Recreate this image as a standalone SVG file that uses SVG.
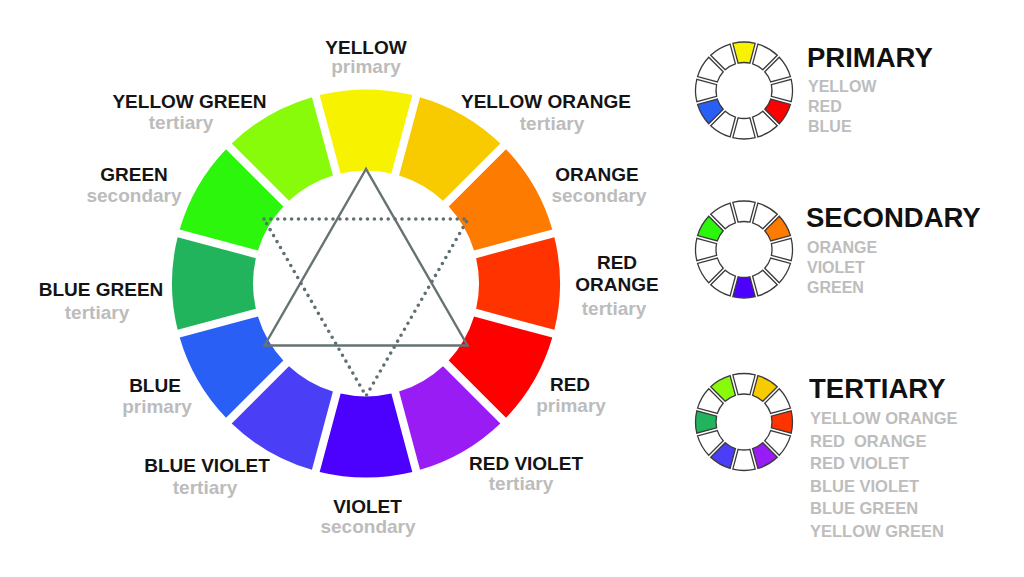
<svg xmlns="http://www.w3.org/2000/svg" xmlns:xlink="http://www.w3.org/1999/xlink" width="1024" height="577" viewBox="0 0 1024 577">
<style>
text{font-family:"Liberation Sans",Arial,Helvetica,sans-serif;font-weight:bold}
.t{font-size:19px;fill:#141414;text-anchor:middle}
.s{font-size:19px;fill:#bcbcbc;text-anchor:middle}
.h{font-size:27.5px;fill:#111}
.l{font-size:16px;fill:#bdbdbd}
.l2{font-size:16.5px;fill:#bdbdbd;white-space:pre}
.sm{stroke:#3a3a3a;stroke-width:1.3;fill:#fff}
.solid{fill:none;stroke:#677373;stroke-width:2.4}
.dot{fill:none;stroke:#5f6f74;stroke-width:3.6;stroke-linecap:round;stroke-dasharray:0 6.9}
</style>
<defs>
<path id="seg" d="M-46.337,-188.386 A194,194 0 0 1 46.337,-188.386 L25.365,-110.117 A113,113 0 0 0 -25.365,-110.117 Z"/>
<path id="sseg" d="M-11.195,-47.190 A48.5,48.5 0 0 1 11.195,-47.190 L5.886,-27.374 A28,28 0 0 0 -5.886,-27.374 Z"/>
</defs>
<rect width="1024" height="577" fill="#fff"/>

<g id="wheel" transform="translate(366,283.5)">
<g id="n-yellow"><use xlink:href="#seg" href="#seg" fill="#f6f200"/></g>
<g id="n-yellow-orange"><use xlink:href="#seg" href="#seg" transform="rotate(30)" fill="#f8cb00"/></g>
<g id="n-orange"><use xlink:href="#seg" href="#seg" transform="rotate(60)" fill="#fd7b00"/></g>
<g id="n-red-orange"><use xlink:href="#seg" href="#seg" transform="rotate(90)" fill="#ff3300"/></g>
<g id="n-red"><use xlink:href="#seg" href="#seg" transform="rotate(120)" fill="#fe0000"/></g>
<g id="n-red-violet"><use xlink:href="#seg" href="#seg" transform="rotate(150)" fill="#9a1cf4"/></g>
<g id="n-violet"><use xlink:href="#seg" href="#seg" transform="rotate(180)" fill="#4c00fd"/></g>
<g id="n-blue-violet"><use xlink:href="#seg" href="#seg" transform="rotate(210)" fill="#4a3ff6"/></g>
<g id="n-blue"><use xlink:href="#seg" href="#seg" transform="rotate(240)" fill="#2a5ff5"/></g>
<g id="n-blue-green"><use xlink:href="#seg" href="#seg" transform="rotate(270)" fill="#21b45d"/></g>
<g id="n-green"><use xlink:href="#seg" href="#seg" transform="rotate(300)" fill="#2cf60c"/></g>
<g id="n-yellow-green"><use xlink:href="#seg" href="#seg" transform="rotate(330)" fill="#87fb0a"/></g>
</g>

<g id="connectors">
<polygon class="solid" points="366,169 264.5,345.5 467.5,345.5"/>
<polygon class="dot" points="264,219 468,219 366,396"/>
</g>

<g id="labels">
<g id="l-yellow"><text class="t" x="366" y="53.5">YELLOW</text><text class="s" x="366" y="73">primary</text></g>
<g id="l-yellow-orange"><text class="t" x="546" y="108">YELLOW ORANGE</text><text class="s" x="552" y="129.5">tertiary</text></g>
<g id="l-orange"><text class="t" x="597" y="181">ORANGE</text><text class="s" x="599" y="201.5">secondary</text></g>
<g id="l-red-orange"><text class="t" x="617" y="268.5">RED</text><text class="t" x="617" y="291">ORANGE</text><text class="s" x="614" y="314.5">tertiary</text></g>
<g id="l-red"><text class="t" x="570" y="391">RED</text><text class="s" x="571" y="411.5">primary</text></g>
<g id="l-red-violet"><text class="t" x="526" y="469.5">RED VIOLET</text><text class="s" x="521" y="489.5">tertiary</text></g>
<g id="l-violet"><text class="t" x="367.5" y="512.5">VIOLET</text><text class="s" x="368" y="532.5">secondary</text></g>
<g id="l-blue-violet"><text class="t" x="207" y="471.5">BLUE VIOLET</text><text class="s" x="205" y="494">tertiary</text></g>
<g id="l-blue"><text class="t" x="155" y="392">BLUE</text><text class="s" x="157" y="412.5">primary</text></g>
<g id="l-blue-green"><text class="t" x="101" y="296">BLUE GREEN</text><text class="s" x="97" y="318.5">tertiary</text></g>
<g id="l-green"><text class="t" x="134" y="181">GREEN</text><text class="s" x="134" y="201.5">secondary</text></g>
<g id="l-yellow-green"><text class="t" x="189.5" y="108">YELLOW GREEN</text><text class="s" x="181" y="129">tertiary</text></g>
</g>

<g id="legend-primary">
<g transform="translate(744,90.5)">
<use xlink:href="#sseg" href="#sseg" class="sm" style="fill:#f6f200"/>
<use xlink:href="#sseg" href="#sseg" class="sm" transform="rotate(30)"/>
<use xlink:href="#sseg" href="#sseg" class="sm" transform="rotate(60)"/>
<use xlink:href="#sseg" href="#sseg" class="sm" transform="rotate(90)"/>
<use xlink:href="#sseg" href="#sseg" class="sm" transform="rotate(120)" style="fill:#fe0000"/>
<use xlink:href="#sseg" href="#sseg" class="sm" transform="rotate(150)"/>
<use xlink:href="#sseg" href="#sseg" class="sm" transform="rotate(180)"/>
<use xlink:href="#sseg" href="#sseg" class="sm" transform="rotate(210)"/>
<use xlink:href="#sseg" href="#sseg" class="sm" transform="rotate(240)" style="fill:#2a5ff5"/>
<use xlink:href="#sseg" href="#sseg" class="sm" transform="rotate(270)"/>
<use xlink:href="#sseg" href="#sseg" class="sm" transform="rotate(300)"/>
<use xlink:href="#sseg" href="#sseg" class="sm" transform="rotate(330)"/>
</g>
<text class="h" x="807" y="66.5">PRIMARY</text>
<text class="l" x="808" y="91.5">YELLOW</text>
<text class="l" x="808" y="111.5">RED</text>
<text class="l" x="808" y="131.5">BLUE</text>
</g>

<g id="legend-secondary">
<g transform="translate(744,249.5)">
<use xlink:href="#sseg" href="#sseg" class="sm"/>
<use xlink:href="#sseg" href="#sseg" class="sm" transform="rotate(30)"/>
<use xlink:href="#sseg" href="#sseg" class="sm" transform="rotate(60)" style="fill:#fd7b00"/>
<use xlink:href="#sseg" href="#sseg" class="sm" transform="rotate(90)"/>
<use xlink:href="#sseg" href="#sseg" class="sm" transform="rotate(120)"/>
<use xlink:href="#sseg" href="#sseg" class="sm" transform="rotate(150)"/>
<use xlink:href="#sseg" href="#sseg" class="sm" transform="rotate(180)" style="fill:#4c00fd"/>
<use xlink:href="#sseg" href="#sseg" class="sm" transform="rotate(210)"/>
<use xlink:href="#sseg" href="#sseg" class="sm" transform="rotate(240)"/>
<use xlink:href="#sseg" href="#sseg" class="sm" transform="rotate(270)"/>
<use xlink:href="#sseg" href="#sseg" class="sm" transform="rotate(300)" style="fill:#2cf60c"/>
<use xlink:href="#sseg" href="#sseg" class="sm" transform="rotate(330)"/>
</g>
<text class="h" x="806" y="226.5">SECONDARY</text>
<text class="l" x="807" y="253">ORANGE</text>
<text class="l" x="807" y="273">VIOLET</text>
<text class="l" x="807" y="293">GREEN</text>
</g>

<g id="legend-tertiary">
<g transform="translate(744,422)">
<use xlink:href="#sseg" href="#sseg" class="sm"/>
<use xlink:href="#sseg" href="#sseg" class="sm" transform="rotate(30)" style="fill:#f8cb00"/>
<use xlink:href="#sseg" href="#sseg" class="sm" transform="rotate(60)"/>
<use xlink:href="#sseg" href="#sseg" class="sm" transform="rotate(90)" style="fill:#ff3300"/>
<use xlink:href="#sseg" href="#sseg" class="sm" transform="rotate(120)"/>
<use xlink:href="#sseg" href="#sseg" class="sm" transform="rotate(150)" style="fill:#9a1cf4"/>
<use xlink:href="#sseg" href="#sseg" class="sm" transform="rotate(180)"/>
<use xlink:href="#sseg" href="#sseg" class="sm" transform="rotate(210)" style="fill:#4a3ff6"/>
<use xlink:href="#sseg" href="#sseg" class="sm" transform="rotate(240)"/>
<use xlink:href="#sseg" href="#sseg" class="sm" transform="rotate(270)" style="fill:#21b45d"/>
<use xlink:href="#sseg" href="#sseg" class="sm" transform="rotate(300)"/>
<use xlink:href="#sseg" href="#sseg" class="sm" transform="rotate(330)" style="fill:#87fb0a"/>
</g>
<text class="h" x="809" y="398">TERTIARY</text>
<text class="l2" x="810" y="424">YELLOW ORANGE</text>
<text class="l2" x="810" y="446.5">RED  ORANGE</text>
<text class="l2" x="810" y="469">RED VIOLET</text>
<text class="l2" x="810" y="491.5">BLUE VIOLET</text>
<text class="l2" x="810" y="514">BLUE GREEN</text>
<text class="l2" x="810" y="536.5">YELLOW GREEN</text>
</g>
</svg>
